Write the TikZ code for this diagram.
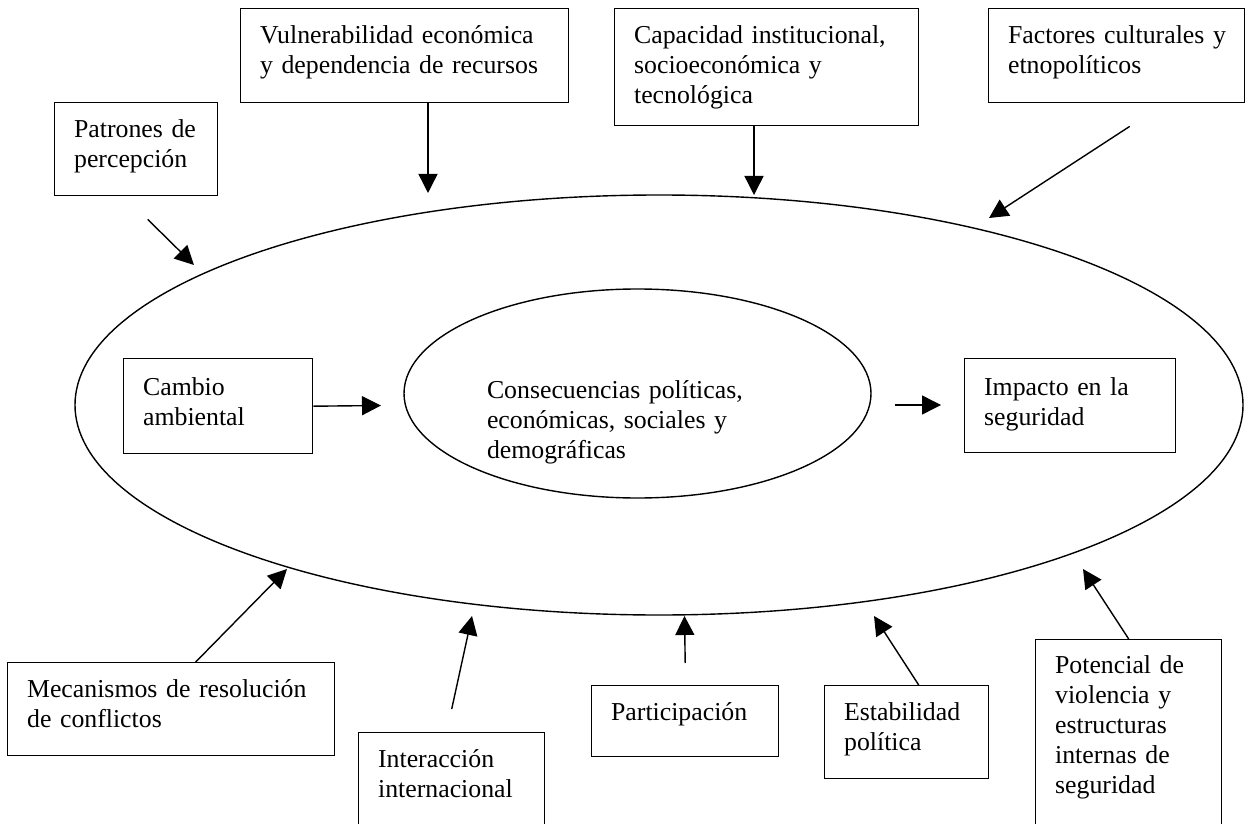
\documentclass[tikz,border=0pt]{standalone}
\usepackage{fontspec}
\setmainfont{Liberation Serif}
\usetikzlibrary{shapes.geometric, arrows.meta, positioning, calc}

\begin{document}
\begin{tikzpicture}[x=0.5pt, y=-0.5pt, >={Triangle[length=9.5pt, width=9.5pt]}, every node/.style={font=\fontsize{12.9pt}{15pt}\selectfont}]
  \tikzset{
    box/.style={rectangle, draw, line width=0.7pt, anchor=north west, align=left, inner xsep=9.7pt, inner ysep=0pt, text height=17.5pt},
    ring/.style={ellipse, draw, line width=0.7pt, inner sep=0pt},
    arrow/.style={->, line width=0.7pt}
  }
  \useasboundingbox (0,0) rectangle (1245,823);

  % outer frame and the central chain
  \node[ring, minimum width=584pt, minimum height=210pt] (frame) at (659,405) {};
  \node[ring, minimum width=233.5pt, minimum height=104.5pt, text width=150.5pt, align=left, text height=30pt, text depth=25.5pt] (cons) at (637.5,393.5) {Consecuencias políticas,\\económicas, sociales y\\demográficas};
  \node[box, text width=75.1pt, text height=18.5pt, text depth=29pt] (camb) at (123,358) {Cambio\\ambiental};
  \node[box, text width=86.1pt, text height=18.5pt, text depth=28.5pt] (impa) at (964,358) {Impacto en la\\seguridad};

  % factors above
  \node[box, text width=62.1pt, text depth=29pt] (patr) at (54,102) {\mbox{Patrones de}\\percepción};
  \node[box, text width=144.6pt, text depth=29.5pt] (vuln) at (240,8) {Vulnerabilidad económica\\y dependencia de recursos};
  \node[box, text width=132.6pt, text depth=41pt] (capa) at (614,8) {Capacidad institucional,\\socioeconómica y\\tecnológica};
  \node[box, text width=108.6pt, text depth=29.5pt] (fact) at (988,8) {\mbox{Factores culturales y}\\etnopolíticos};

  % factors below
  \node[box, text width=144.1pt, text depth=29pt] (meca) at (7,662) {Mecanismos de resolución\\de conflictos};
  \node[box, text width=73.6pt, text depth=41.5pt] (inte) at (358,732) {Interacción\\internacional};
  \node[box, text width=74.1pt, text depth=18pt] (part) at (591,685) {Participación};
  \node[box, text width=62.6pt, text depth=29pt] (esta) at (824,685) {Estabilidad\\política};
  \node[box, text width=73.6pt, text height=17pt, text depth=88.5pt] (pote) at (1035,639) {\mbox{Potencial de}\\\mbox{violencia y}\\estructuras\\\mbox{internas de}\\seguridad};

  % arrow tips
  \coordinate (patrTip) at (194,265);
  \coordinate (vulnTip) at (428,193);
  \coordinate (capaTip) at (754,195);
  \coordinate (factTip) at (989,218);
  \coordinate (cambTip) at (381,405.5);
  \coordinate (impaTip) at (941,405);
  \coordinate (mecaTip) at (287,569);
  \coordinate (inteTip) at (472,616);
  \coordinate (partTip) at (684.5,616);
  \coordinate (estaTip) at (874,616);
  \coordinate (poteTip) at (1083,569);

  \draw[arrow] ([xshift=5.75pt, yshift=-11.5pt]patr.south) -- (patrTip);
  \draw[arrow] (vuln.south -| vulnTip) -- (vulnTip);
  \draw[arrow] (capa.south -| capaTip) -- (capaTip);
  \draw[arrow] ([xshift=6.5pt, yshift=-11.5pt]fact.south) -- (factTip);
  \draw[arrow] (camb.east) -- (cambTip);
  \draw[arrow] ([xshift=11.5pt, yshift=-5.75pt]cons.east) -- (impaTip);
  \draw[arrow] ([xshift=12.25pt]meca.north) -- (mecaTip);
  \draw[arrow] ([yshift=11.5pt]inte.north) -- (inteTip);
  \draw[arrow] ([yshift=11pt]part.north) -- (partTip);
  \draw[arrow] ([xshift=6pt]esta.north) -- (estaTip);
  \draw[arrow] (pote.north) -- (poteTip);
\end{tikzpicture}
\end{document}
